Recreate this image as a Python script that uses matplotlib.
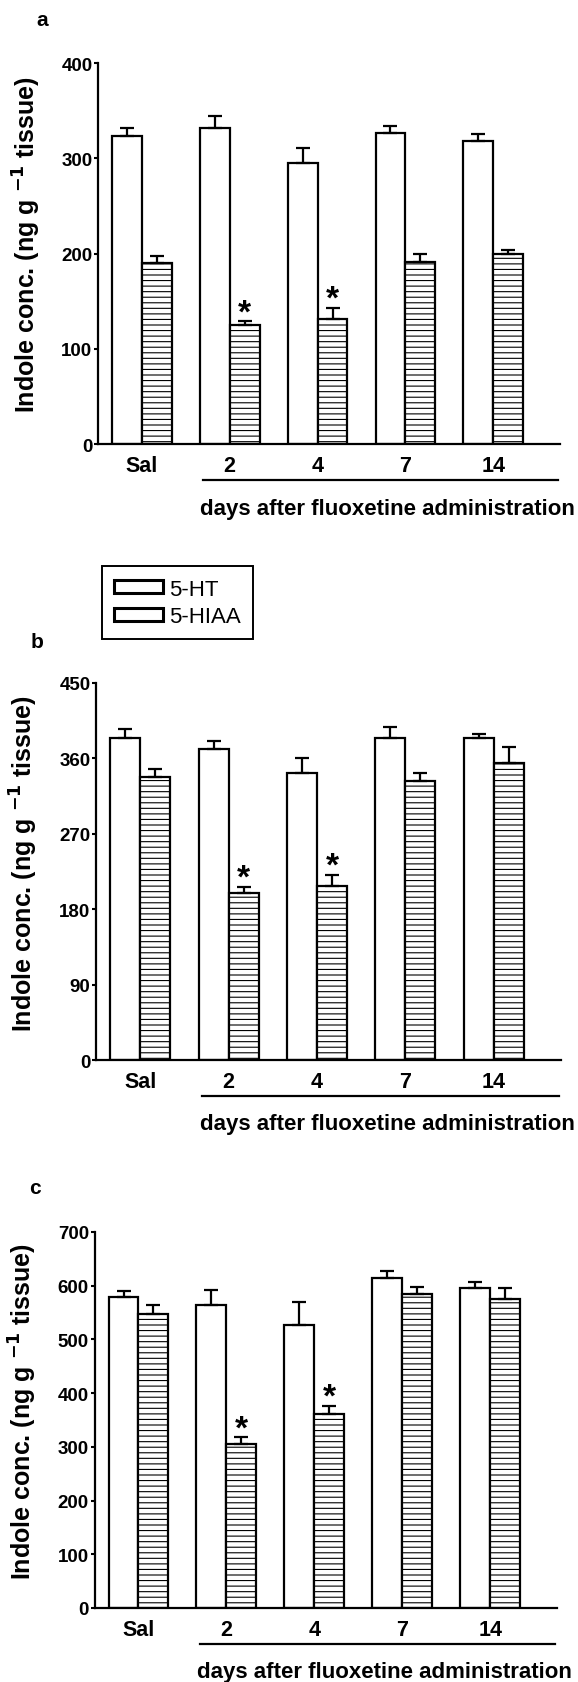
import matplotlib
matplotlib.use("Agg")
import matplotlib.pyplot as plt
import matplotlib.transforms as mtransforms
from matplotlib.patches import Patch
import numpy as np

plt.rcParams['font.family'] = ['Liberation Sans', 'DejaVu Sans']
plt.rcParams['hatch.linewidth'] = 0.8
plt.rcParams['hatch.color'] = 'black'

categories = ['Sal', '2', '4', '7', '14']

a_ht = [323, 332, 295, 327, 318]
a_ht_err = [9, 12, 16, 7, 7.5]
a_hiaa = [190, 125, 131, 191, 199]
a_hiaa_err = [7.5, 4, 12, 8, 4.5]

b_ht = [384, 371, 342, 384, 384]
b_ht_err = [11, 10, 19, 13, 5]
b_hiaa = [338, 199, 208, 333, 355]
b_hiaa_err = [9, 8, 13, 9, 19]

c_ht = [579, 565, 527, 615, 596]
c_ht_err = [12, 27, 43, 13, 11]
c_hiaa = [548, 305, 362, 585, 575]
c_hiaa_err = [17, 13, 14, 13, 21]

sig_hiaa = [False, True, True, False, False]

a_ticks = [0, 100, 200, 300, 400]
b_ticks = [0, 90, 180, 270, 360, 450]
c_ticks = [0, 100, 200, 300, 400, 500, 600, 700]

W, H = 578, 1683
fig = plt.figure(figsize=(W / 100, H / 100), dpi=100)


def px_axes(left, right, top, bottom):
    return fig.add_axes([left / W, 1 - bottom / H, (right - left) / W, (bottom - top) / H])


panels = [
    dict(box=(98, 560, 64, 445), ht=a_ht, hte=a_ht_err, hi=a_hiaa, hie=a_hiaa_err,
         ticks=a_ticks, letter='a', letter_xy=(42, 21)),
    dict(box=(96, 561, 684, 1061), ht=b_ht, hte=b_ht_err, hi=b_hiaa, hie=b_hiaa_err,
         ticks=b_ticks, letter='b', letter_xy=(37, 643)),
    dict(box=(94.5, 557, 1233, 1609), ht=c_ht, hte=c_ht_err, hi=c_hiaa, hie=c_hiaa_err,
         ticks=c_ticks, letter='c', letter_xy=(35, 1189)),
]

bw = 0.34
x = np.arange(len(categories))
for p in panels:
    ax = px_axes(*p['box'])
    ax.bar(x - bw / 2, p['ht'], width=bw, facecolor='white', edgecolor='black', linewidth=1.6)
    ax.bar(x + bw / 2, p['hi'], width=bw, facecolor='white', edgecolor='black', linewidth=1.6,
           hatch='---')
    ax.errorbar(x - bw / 2, p['ht'], yerr=[np.zeros(len(x)), p['hte']], fmt='none',
                ecolor='black', elinewidth=1.6, capsize=5, capthick=1.6)
    ax.errorbar(x + bw / 2, p['hi'], yerr=[np.zeros(len(x)), p['hie']], fmt='none',
                ecolor='black', elinewidth=1.6, capsize=5, capthick=1.6)
    for i, s in enumerate(sig_hiaa):
        if s:
            ax.annotate('*', xy=(x[i] + bw / 2, p['hi'][i] + p['hie'][i]), xytext=(0, 0),
                        textcoords='offset points', ha='center', va='baseline',
                        fontsize=24, fontweight='bold')
    ax.set_xlim(-0.5, 4.76)
    ax.set_ylim(0, p['ticks'][-1])
    ax.set_yticks(p['ticks'])
    ax.set_yticklabels([str(t) for t in p['ticks']], fontsize=13.5, fontweight='bold')
    ax.set_xticks(x)
    ax.set_xticklabels(categories, fontsize=15.5, fontweight='bold')
    ax.tick_params(axis='x', length=0, pad=8)
    ax.tick_params(axis='y', length=3, width=1.5, pad=1)
    for s in ['top', 'right']:
        ax.spines[s].set_visible(False)
    for s in ['left', 'bottom']:
        ax.spines[s].set_linewidth(1.6)
    ax.set_ylabel('Indole conc. (ng g $^{\\mathbf{-1}}$ tissue)', fontsize=18, fontweight='bold')
    ax.yaxis.set_label_coords(-0.12, 0.525)
    trans = mtransforms.blended_transform_factory(ax.transData, ax.transAxes)
    ax.plot([0.7, 4.74], [-0.095, -0.095], transform=trans, color='black', lw=1.6,
            clip_on=False)
    ax.text(2.8, -0.168, 'days after fluoxetine administration', transform=trans,
            ha='center', va='center', fontsize=16, fontweight='bold')
    lx, ly = p['letter_xy']
    fig.text(lx / W, 1 - ly / H, p['letter'], ha='center', va='center', fontsize=15,
             fontweight='bold')

handles = [Patch(facecolor='white', edgecolor='black', linewidth=2.2, label='5-HT'),
           Patch(facecolor='white', edgecolor='black', linewidth=2.2, label='5-HIAA')]
leg = fig.legend(handles=handles, loc='upper left', bbox_to_anchor=(101.7 / W, 1 - 567.3 / H),
                 borderaxespad=0, fancybox=False, edgecolor='black', framealpha=1,
                 fontsize=16, handlelength=2.2, handleheight=0.55, handletextpad=0.3,
                 labelspacing=0.3, borderpad=0.55)
leg.get_frame().set_linewidth(1.4)

fig.savefig('out.png', dpi=100)
